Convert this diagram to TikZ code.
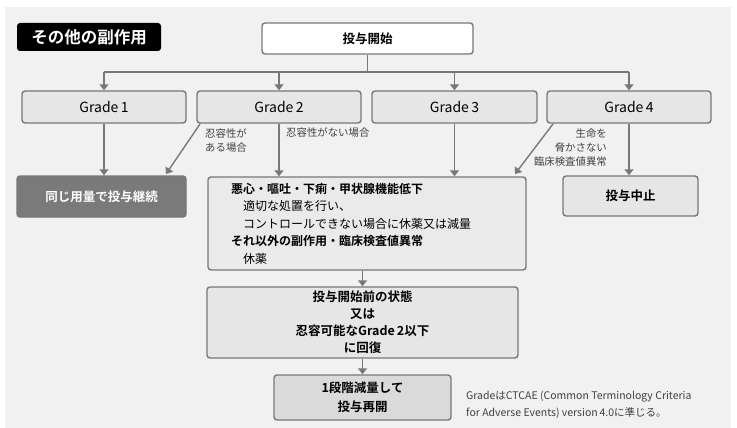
\documentclass[tikz,border=0pt]{standalone}
\usepackage{fontspec}
\setmainfont{Noto Sans CJK JP}[BoldFont={Noto Sans CJK JP Bold}]
\usetikzlibrary{arrows.meta}
\definecolor{bg}{HTML}{F1F1F1}
\definecolor{edge}{HTML}{787878}
\definecolor{boxgray}{HTML}{E6E6E6}
\definecolor{darkbox}{HTML}{7A7A7A}
\begin{document}
\begin{tikzpicture}[x=1pt, y=-1pt,
  box/.style={draw=edge, line width=1.4pt, rounded corners=3pt, fill=boxgray, inner sep=0pt},
  arr/.style={draw=edge, line width=1.4pt, -{Triangle[width=9pt,length=6pt]}},
  line/.style={draw=edge, line width=1.4pt},
  note/.style={font=\fontsize{10.4}{14}\selectfont, text=black!75, inner sep=0pt}]
\useasboundingbox (0,0) rectangle (737,428);
\fill[white] (0,0) rectangle (737,428);
\fill[bg] (5,7) rectangle (731,428);
% title and start
\node[fill=black, rounded corners=3pt, minimum width=144pt, minimum height=28pt, text=white, font=\fontsize{16.5}{18}\selectfont\bfseries] (title) at (89,37) {その他の副作用};
\node[box, fill=white, minimum width=211pt, minimum height=31pt, font=\fontsize{12.5}{14}\selectfont\bfseries] (start) at (367.5,38.5) {投与開始};
% grades
\node[box, minimum width=164pt, minimum height=32pt, font=\fontsize{14}{16}\selectfont] (g1) at (104,107) {Grade\,1};
\node[box, minimum width=164pt, minimum height=32pt, font=\fontsize{14}{16}\selectfont] (g2) at (279,107) {Grade\,2};
\node[box, minimum width=165pt, minimum height=32pt, font=\fontsize{14}{16}\selectfont] (g3) at (454.5,107) {Grade\,3};
\node[box, minimum width=164pt, minimum height=32pt, font=\fontsize{14}{16}\selectfont] (g4) at (629,107) {Grade\,4};
\coordinate (jl) at (104,72);
\coordinate (jr) at (629,72);
\draw[line] (start.south) -- (start.south |- jl);
\draw[line] (jl) -- (jr);
\draw[arr] (jl) -- (g1.north);
\draw[arr] (g2.north |- jl) -- (g2.north);
\draw[arr] (g3.north |- jl) -- (g3.north);
\draw[arr] (jr) -- (g4.north);
% outcomes
\node[box, fill=darkbox, minimum width=169pt, minimum height=41pt, text=white, font=\fontsize{12.5}{14}\selectfont\bfseries] (cont) at (101.5,196.5) {同じ用量で投与継続};
\node[box, fill=boxgray!85!white, minimum width=318pt, minimum height=93pt, text width=272pt, align=left, font=\fontsize{12}{17.5}\selectfont] (treat) at (367,223.5) {\textbf{悪心・嘔吐・下痢・甲状腺機能低下}\\
\hspace*{12pt}適切な処置を行い、\\
\hspace*{12pt}コントロールできない場合に休薬又は減量\\
\textbf{それ以外の副作用・臨床検査値異常}\\
\hspace*{12pt}休薬};
\node[box, minimum width=135pt, minimum height=40pt, font=\fontsize{12.5}{14}\selectfont\bfseries] (stop) at (630.5,196) {投与中止};
\draw[arr] (g1.south) -- (g1.south |- cont.north);
\draw[arr] (g2.south) -- (g2.south |- treat.north);
\draw[arr] (g3.south) -- (g3.south |- treat.north);
\draw[arr] (g4.south) -- (g4.south |- stop.north);
\coordinate (d2a) at (200,124);
\coordinate (d2b) at (166,174);
\coordinate (d4a) at (553,124);
\coordinate (d4b) at (515,174);
\draw[arr] (d2a) -- (d2b);
\draw[arr] (d4a) -- (d4b);
\node[note, anchor=west, align=left] (tol) at (205,141) {忍容性が\\ある場合};
\node[note, anchor=west] (intol) at (286,133) {忍容性がない場合};
\node[note, anchor=east, align=right] (life) at (607,148) {生命を\\脅かさない\\臨床検査値異常};
% recovery
\node[box, minimum width=311pt, minimum height=71pt, align=center, font=\fontsize{12.5}{17}\selectfont\bfseries] (recov) at (362.5,322.5) {投与開始前の状態\\又は\\忍容可能なGrade\,2以下\\に回復};
\node[box, fill=boxgray!80!black!25!boxgray, minimum width=177pt, minimum height=45pt, align=center, font=\fontsize{12.5}{19}\selectfont\bfseries] (restart) at (362.5,397.5) {1段階減量して\\投与再開};
\draw[arr] (treat.south -| recov.north) -- (recov.north);
\draw[arr] (recov.south) -- (restart.north);
\node[note, anchor=west, align=left, font=\fontsize{10.5}{17}\selectfont] (foot) at (466,405) {GradeはCTCAE (Common Terminology Criteria\\for Adverse Events) version\,4.0に準じる。};
\end{tikzpicture}
\end{document}
